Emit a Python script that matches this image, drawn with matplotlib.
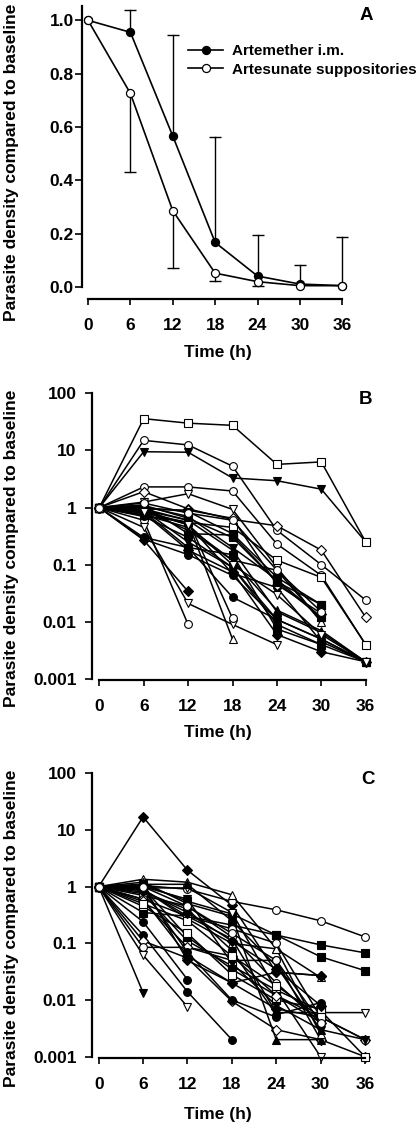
import numpy as np
import matplotlib
matplotlib.use("Agg")
import matplotlib.pyplot as plt
from matplotlib.ticker import NullLocator

plt.rcParams["font.family"] = ["Liberation Sans", "DejaVu Sans"]
plt.rcParams["font.weight"] = "bold"

nan = np.nan
hours = [0, 6, 12, 18, 24, 30, 36]

# panel A: mean curves with one-sided error bars
artemether_mean = [1.0, 0.955, 0.566, 0.167, 0.041, 0.011, 0.005]
artemether_upper = [nan, 1.037, 0.945, 0.561, 0.196, 0.081, 0.189]
artesunate_mean = [1.0, 0.726, 0.286, 0.052, 0.020, 0.005, 0.005]
artesunate_lower = [nan, 0.432, 0.070, 0.022, 0.004, nan, nan]
legend_labels = ["Artemether i.m.", "Artesunate suppositories"]

# panel B: individual patients (artemether)
b_values = [
    [1, 15, 12.5, 5.3, 0.4, 0.1, 0.024],
    [1, 9.5, 9.3, 3.3, 2.95, 2.1, 0.25],
    [1, 2.3, 2.3, 1.95, 0.23, 0.065, 0.004],
    [1, 1.9, 0.95, 0.62, 0.48, 0.18, 0.012],
    [1, 1.25, 1.75, 0.93, 0.09, 0.01, nan],
    [1, 0.72, 0.55, 0.45, 0.12, 0.06, 0.004],
    [1, 0.6, 0.009, nan, nan, nan, nan],
    [1, 0.27, 0.034, nan, nan, nan, nan],
    [1, 0.45, 0.021, 0.009, 0.004, nan, nan],
    [1, 0.8, 0.55, 0.005, nan, nan, nan],
    [1, 0.95, 0.6, 0.0115, nan, nan, nan],
    [1, 0.3, 0.2, 0.027, 0.011, 0.005, 0.002],
    [1, 1.1, 0.35, 0.33, 0.05, 0.02, nan],
    [1, 0.9, 0.6, 0.18, 0.015, 0.0065, 0.002],
    [1, 0.8, 0.18, 0.075, 0.006, 0.003, 0.002],
    [1, 1.05, 0.7, 0.2, 0.055, 0.012, nan],
    [1, 0.9, 0.5, 0.07, 0.04, 0.0045, 0.002],
    [1, 0.85, 0.2, 0.15, 0.0075, 0.004, 0.002],
    [1, 0.75, 0.45, 0.12, 0.08, 0.01, nan],
    [1, 0.95, 0.9, 0.65, 0.045, 0.014, nan],
    [1, 0.9, 0.25, 0.09, 0.011, 0.005, 0.002],
    [1, 0.28, 0.15, 0.065, 0.011, nan, nan],
    [1, 1.0, 0.85, 0.35, 0.06, 0.02, nan],
    [1, 1.1, 0.65, 0.3, 0.05, 0.012, nan],
    [1, 0.9, 0.4, 0.12, 0.016, 0.007, 0.002],
    [1, 0.7, 0.3, 0.09, 0.009, 0.004, nan],
    [1, 1.2, 0.8, 0.6, 0.08, 0.015, nan],
    [1, 0.85, 0.5, 0.1, 0.03, 0.006, 0.002],
    [1, 36, 30, 27.5, 5.7, 6.3, 0.25],
]
b_markers = ["o", "v", "o", "D", "v", "s", "o", "D", "v", "^", "o", "o", "s", "^",
             "D", "v", "o", "s", "^", "D", "v", "o", "s", "s", "^", "o", "o", "v", "s"]
b_filled = [0, 1, 0, 0, 0, 0, 0, 1, 0, 0, 0, 1, 1, 1,
            1, 1, 1, 1, 0, 0, 1, 1, 1, 1, 1, 1, 0, 0, 0]

# panel C: individual patients (artesunate)
c_values = [
    [1, 17, 1.95, 0.47, 0.031, 0.027, nan],
    [1, 0.0135, nan, nan, nan, nan, nan],
    [1, 1.05, 0.9, 0.55, 0.39, 0.25, 0.13],
    [1, 1.35, 1.2, 0.72, 0.08, 0.025, nan],
    [1, 1.1, 0.55, 0.33, 0.14, 0.094, 0.068],
    [1, 0.35, 0.3, 0.21, 0.14, 0.058, 0.033],
    [1, 0.062, 0.0076, nan, nan, nan, nan],
    [1, 0.14, 0.014, 0.002, nan, nan, nan],
    [1, 0.24, 0.023, nan, nan, nan, nan],
    [1, 0.11, 0.055, 0.0095, 0.003, 0.002, 0.001],
    [1, 0.085, 0.085, 0.05, 0.05, 0.002, nan],
    [1, 0.9, 0.3, 0.12, 0.006, 0.006, 0.006],
    [1, 0.6, 0.06, 0.02, 0.007, 0.005, 0.002],
    [1, 1.2, 0.5, 0.3, 0.002, 0.002, nan],
    [1, 0.8, 0.4, 0.075, 0.0055, 0.009, nan],
    [1, 0.95, 0.95, 0.35, 0.015, 0.001, nan],
    [1, 0.75, 0.11, 0.04, 0.015, 0.0065, 0.001],
    [1, 0.7, 0.45, 0.13, 0.02, 0.004, nan],
    [1, 0.9, 0.27, 0.1, 0.08, 0.0025, nan],
    [1, 0.95, 0.13, 0.035, 0.012, 0.005, nan],
    [1, 1.05, 0.05, 0.02, 0.031, 0.027, nan],
    [1, 0.6, 0.3, 0.18, 0.1, 0.005, 0.002],
    [1, 0.45, 0.15, 0.028, 0.01, 0.007, nan],
    [1, 1.0, 0.6, 0.045, 0.008, 0.003, 0.002],
    [1, 0.55, 0.085, 0.06, 0.012, 0.004, nan],
    [1, 0.9, 0.07, 0.01, 0.005, nan, nan],
    [1, 1.1, 1.1, 0.25, 0.04, 0.003, nan],
    [1, 0.5, 0.25, 0.06, 0.018, 0.005, nan],
    [1, 0.85, 0.35, 0.11, 0.035, 0.008, nan],
    [1, 1.0, 0.45, 0.15, 0.05, 0.004, nan],
]
c_markers = ["D", "v", "o", "^", "s", "s", "v", "o", "o", "D", "o", "v", "D", "^", "o",
             "v", "s", "o", "^", "s", "D", "o", "s", "v", "D", "o", "^", "s", "D", "o"]
c_filled = [1, 1, 0, 0, 1, 1, 0, 1, 1, 0, 0, 0, 1, 1, 1,
            0, 0, 0, 0, 1, 1, 0, 0, 1, 0, 1, 1, 0, 1, 0]

log_ticks = [0.001, 0.01, 0.1, 1, 10, 100]
log_labels = ["0.001", "0.01", "0.1", "1", "10", "100"]
ylabel = "Parasite density compared to baseline"

W, H = 420, 1129
fig = plt.figure(figsize=(W / 100, H / 100), dpi=100)


def px_axes(left, top, right, bottom):
    return fig.add_axes([left / W, 1 - bottom / H, (right - left) / W, (bottom - top) / H])


def style(ax, ypad, xpad):
    for s in ["top", "right"]:
        ax.spines[s].set_visible(False)
    for s in ["left", "bottom"]:
        ax.spines[s].set_linewidth(1.6)
    ax.tick_params(axis="y", direction="out", length=5, width=1.2, labelsize=12.5, pad=ypad)
    ax.tick_params(axis="x", direction="out", length=4, width=1.2, labelsize=12.5, pad=xpad)
    ax.set_xticks(hours)
    ax.spines["bottom"].set_bounds(0, 36)


def marker_size(m):
    return {"o": 5.6, "s": 5.2, "D": 4.8, "^": 5.6, "v": 5.6}[m]


# ---- Panel A
axA = px_axes(82, 4, 410, 299.5)
s = (342.3 - 88) / 36
axA.set_xlim(-(88 - 82) / s, 36 + (410 - 342.3) / s)
axA.set_ylim(-(299.5 - 287) / 266.7, 1 + (20.3 - 4) / 266.7)
style(axA, 1.0, 9)
axA.spines["left"].set_bounds(0, 1.055)
axA.set_yticks([0, 0.2, 0.4, 0.6, 0.8, 1.0])
axA.set_yticklabels(["%.1f" % v for v in [0, 0.2, 0.4, 0.6, 0.8, 1.0]])

for i, t in enumerate(hours):
    if not np.isnan(artemether_upper[i]):
        axA.plot([t, t], [artemether_mean[i], artemether_upper[i]], color="k", lw=1.0)
        axA.plot(t, artemether_upper[i], marker="_", ms=8, mew=1.0, color="k")
    if not np.isnan(artesunate_lower[i]):
        axA.plot([t, t], [artesunate_lower[i], artesunate_mean[i]], color="k", lw=1.0)
        axA.plot(t, artesunate_lower[i], marker="_", ms=8, mew=1.0, color="k")

axA.plot(hours, artemether_mean, color="k", lw=1.2, marker="o", ms=5.8, mfc="k",
         mec="k", mew=0.9, label=legend_labels[0], clip_on=False, zorder=3)
axA.plot(hours, artesunate_mean, color="k", lw=1.2, marker="o", ms=5.8, mfc="w",
         mec="k", mew=0.9, label=legend_labels[1], clip_on=False, zorder=3)

axA.legend(loc="upper left", bbox_to_anchor=(188 / W, 1 - 44 / H), bbox_transform=fig.transFigure,
           frameon=False, fontsize=11, handlelength=2.3, handletextpad=0.55, labelspacing=0.3,
           borderpad=0, borderaxespad=0, numpoints=1)


def spaghetti(ax, values, markers, filled):
    for vals, m, f in zip(values, markers, filled):
        ax.plot(hours, vals, color="k", lw=1.1, marker=m, ms=marker_size(m),
                mfc="k" if f else "w", mec="k", mew=0.8, clip_on=False)
    # baseline point drawn on top
    ax.plot(0, 1, marker="o", ms=5.6, mfc="w", mec="k", mew=0.8, clip_on=False, zorder=4)


def log_axes(top0, y100, y001, ybottom, x0, x36):
    ax = px_axes(92, top0, 410, ybottom)
    s = (x36 - x0) / 36
    ax.set_xlim(-(x0 - 92) / s, 36 + (410 - x36) / s)
    dec = (y001 - y100) / 5
    ax.set_yscale("log")
    ax.set_ylim(10 ** (-3 - (ybottom - y001) / dec), 10 ** (2 + (y100 - top0) / dec))
    style(ax, 6, 10)
    ax.spines["left"].set_bounds(0.001, 100)
    ax.set_yticks(log_ticks)
    ax.set_yticklabels(log_labels)
    ax.yaxis.set_minor_locator(NullLocator())
    return ax


# ---- Panel B
axB = log_axes(385, 393.3, 679, 680, 99.3, 365.7)
spaghetti(axB, b_values, b_markers, b_filled)

# ---- Panel C
axC = log_axes(765, 773.3, 1056.7, 1058, 98.7, 365)
spaghetti(axC, c_values, c_markers, c_filled)

# labels
for yc in [162, 548, 928]:
    fig.text(12 / W, 1 - yc / H, ylabel, rotation=90, ha="center", va="center", fontsize=12.5)
for yc in [353, 733, 1115]:
    fig.text(218 / W, 1 - yc / H, "Time (h)", ha="center", va="center", fontsize=12.5)
for letter, (x, y) in zip(["A", "B", "C"], [(366, 16), (365, 400), (368, 779)]):
    fig.text(x / W, 1 - y / H, letter, ha="center", va="center", fontsize=13.5)

fig.savefig("out.png", dpi=100)
